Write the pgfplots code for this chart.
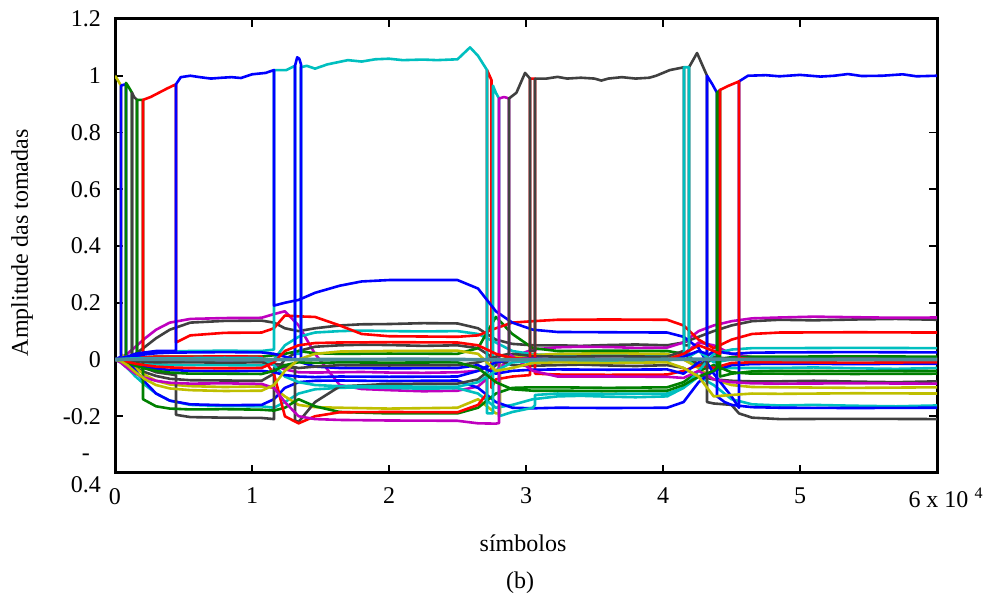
\documentclass[border=0pt]{standalone}
\usepackage{fontspec}
\setmainfont{Liberation Serif}
\usepackage{pgfplots}
\usepackage{pgfplotstable}
\pgfplotsset{compat=1.18}

% line colours of the tap trajectories
\definecolor{tb}{rgb}{0,0,1}
\definecolor{tg}{rgb}{0,0.5,0}
\definecolor{tr}{rgb}{1,0,0}
\definecolor{tc}{rgb}{0,0.75,0.75}
\definecolor{tm}{rgb}{0.75,0,0.75}
\definecolor{ty}{rgb}{0.75,0.75,0}
\definecolor{tk}{rgb}{0.25,0.25,0.25}
\definecolor{tz}{rgb}{0.30,0.55,0.60}

% small taps that never become the main tap
\pgfplotstableread{
x      D1     M1     D2      C2      C3      M3
0      0      0      0       0       0       0
400    0      0.005  -0.005  -0.002  -0.01   0.002
900    0.005  0.02   -0.015  -0.006  -0.03   0
1500   0.02   0.045  -0.03   -0.01   -0.06   -0.003
2200   0.045  0.075  -0.045  -0.014  -0.09   -0.005
3000   0.075  0.105  -0.058  -0.017  -0.12   -0.005
4000   0.105  0.13   -0.068  -0.019  -0.145  -0.006
5500   0.13   0.143  -0.073  -0.02   -0.16   -0.005
8000   0.136  0.146  -0.074  -0.02   -0.164  -0.005
10700  0.137  0.147  -0.075  -0.021  -0.165  -0.006
11600  0.13   0.16   -0.05   0       -0.17   -0.02
12400  0.11   0.17   0       0.05    -0.15   -0.035
13400  0.1    0.12   0.03    0.08    -0.12   -0.045
14600  0.11   0.02   0.045   0.095   -0.105  -0.046
16400  0.12   -0.09  0.05    0.1     -0.1    -0.045
18000  0.124  -0.104 0.052   0.102   -0.098  -0.044
20000  0.125  -0.108 0.051   0.1     -0.1    -0.046
22500  0.128  -0.112 0.048   0.099   -0.103  -0.047
25000  0.127  -0.11  0.05    0.1     -0.101  -0.045
26500  0.11   -0.095 0.04    0.09    -0.12   -0.04
27800  0.07   -0.04  0       0.06    -0.17   -0.01
29000  0.055  0.01   -0.02   0.03    -0.16   0.01
30500  0.05   0.035  -0.022  0.018   -0.14   0.004
32300  0.05   0.043  -0.02   0.015   -0.13   0
34000  0.048  0.045  -0.018  0.018   -0.128  0.003
36000  0.051  0.044  -0.021  0.016   -0.131  0.001
38000  0.053  0.041  -0.023  0.013   -0.133  -0.002
40300  0.05   0.042  -0.02   0.015   -0.13   0
41500  0.06   0.06   -0.03   0       -0.1    0.02
42600  0.08   0.1    -0.06   -0.02   -0.06   0.06
43700  0.1    0.12   -0.07   -0.03   -0.09   0.05
45000  0.12   0.135  -0.075  -0.03   -0.14   0.02
46500  0.135  0.145  -0.077  -0.03   -0.158  0.008
48500  0.14   0.148  -0.077  -0.03   -0.162  0.005
51000  0.138  0.151  -0.075  -0.028  -0.16   0.007
54000  0.141  0.149  -0.078  -0.031  -0.163  0.006
57000  0.143  0.147  -0.08   -0.033  -0.165  0.003
60000  0.14   0.148  -0.077  -0.03   -0.162  0.005
}\smalltaps

\begin{document}
\begin{tikzpicture}[font=\rmfamily\fontsize{12}{14}\selectfont]
\path[use as bounding box] (-57.5pt,-62.5pt) rectangle (439.5pt,236.5pt);
\begin{axis}[
  at={(0,0)}, anchor=south west,
  scale only axis, width=411pt, height=227pt,
  xmin=0, xmax=60000, ymin=-0.4, ymax=1.2,
  xtick={0,10000,20000,30000,40000,50000,60000},
  xticklabels={0,1,2,3,4,5,{\hspace*{9pt}6 x 10 \textsuperscript{4}}},
  scaled x ticks=false,
  ytick={-0.4,-0.2,0,0.2,0.4,0.6,0.8,1,1.2},
  yticklabels={{-\\[2pt]0.4},-0.2,0,0.2,0.4,0.6,0.8,1,1.2},
  /pgf/number format/assume math mode=true,
  tick label style={font=\rmfamily\fontsize{12}{14}\selectfont},
  yticklabel style={align=center, xshift=-3.5pt},
  xticklabel style={yshift=-4pt},
  tick align=inside,
  major tick length=4pt,
  tick style={line width=0.9pt, black},
  axis line style={line width=1.5pt},
  every axis plot/.append style={line width=1.3pt, line join=round, mark=none},
]
% taps that stay small
\addplot[tk] table[x=x, y=D1] {\smalltaps};
\addplot[tm] table[x=x, y=M1] {\smalltaps};
\addplot[tk] table[x=x, y=D2] {\smalltaps};
\addplot[tc] table[x=x, y=C2] {\smalltaps};
\addplot[tc] table[x=x, y=C3] {\smalltaps};
\addplot[tm] table[x=x, y=M3] {\smalltaps};

% taps that take the main position for a while
\addplot[ty] coordinates {(0,1.0)(200,0.985)(438,0.965)(438,0.02)(900,-0.005)(1500,-0.03)(2200,-0.055)(3000,-0.075)(4000,-0.088)(5500,-0.094)(8000,-0.097)(10700,-0.095)(11600,-0.10)(12400,-0.13)(13400,-0.16)(14600,-0.168)(16400,-0.17)(20000,-0.173)(25000,-0.17)(26500,-0.14)(27800,-0.19)(28100,-0.19)(28100,0.0)(29000,0.01)(30500,0.015)(32300,0.02)(36000,0.022)(40300,0.02)(41500,0.0)(42600,-0.03)(43700,-0.07)(45000,-0.09)(46500,-0.097)(48500,-0.098)(54000,-0.1)(60000,-0.098)};
\addplot[tb] coordinates {(0,0)(438,0.01)(438,0.965)(620,0.968)(803,0.97)(803,0.0)(900,-0.005)(1500,-0.04)(2200,-0.08)(3000,-0.12)(4000,-0.145)(5500,-0.158)(8000,-0.161)(10700,-0.16)(11600,-0.14)(12400,-0.1)(13400,-0.08)(14600,-0.075)(16400,-0.074)(20000,-0.076)(25000,-0.074)(26500,-0.1)(27800,-0.15)(29000,-0.17)(30500,-0.172)(32300,-0.17)(36000,-0.171)(40300,-0.17)(41500,-0.15)(42600,-0.08)(43700,-0.04)(45000,-0.02)(46500,-0.016)(48500,-0.015)(54000,-0.016)(60000,-0.015)};
\addplot[tg] coordinates {(0,0)(400,0.003)(803,0.005)(803,0.975)(1000,0.96)(1241,0.94)(1241,0.0)(1500,0.005)(2200,0.008)(3000,0.01)(4000,0.01)(5500,0.01)(8000,0.011)(10700,0.01)(11600,0.015)(12400,0.02)(13400,0.03)(14600,0.022)(16400,0.02)(20000,0.021)(25000,0.02)(26500,0.04)(27800,0.15)(29000,0.09)(30500,0.04)(32300,0.03)(36000,0.031)(40300,0.03)(41500,0.02)(42600,-0.02)(43700,0.0)(45000,0.008)(46500,0.01)(48500,0.01)(54000,0.011)(60000,0.01)};
\addplot[tk] coordinates {(0,0)(400,-0.003)(900,-0.005)(1241,-0.006)(1241,0.94)(1400,0.925)(1606,0.915)(1606,-0.01)(2200,-0.03)(3000,-0.045)(4453,-0.055)(4453,-0.195)(5500,-0.203)(8000,-0.205)(10700,-0.206)(11606,-0.21)(11606,-0.03)(12400,-0.025)(13139,-0.03)(13139,-0.215)(13400,-0.22)(14600,-0.15)(16400,-0.095)(20000,-0.086)(25000,-0.085)(26500,-0.07)(27800,-0.02)(29000,0.02)(30500,0.012)(32300,0.01)(36000,0.011)(40300,0.01)(41500,0.03)(42600,-0.02)(43700,0.01)(45000,0.0)(46500,0.002)(48500,0.0)(54000,0.001)(60000,0.0)};
\addplot[tg] coordinates {(0,0)(400,-0.005)(900,-0.01)(1606,-0.02)(1606,0.915)(2044,0.915)(2044,-0.14)(3000,-0.165)(4000,-0.173)(5500,-0.176)(8000,-0.175)(10700,-0.177)(11600,-0.18)(12400,-0.17)(13400,-0.14)(14600,-0.165)(16400,-0.185)(20000,-0.19)(25000,-0.19)(26500,-0.17)(27800,-0.12)(29000,-0.1)(30500,-0.098)(32300,-0.098)(36000,-0.1)(40300,-0.098)(41500,-0.08)(42600,-0.04)(43700,-0.02)(45000,-0.045)(46500,-0.05)(48500,-0.05)(54000,-0.051)(60000,-0.05)};
\addplot[tr] coordinates {(0,0)(400,0.005)(900,0.01)(1500,0.012)(2044,0.01)(2044,0.915)(2600,0.925)(3200,0.94)(3800,0.955)(4453,0.97)(4453,0.06)(5500,0.085)(8000,0.094)(10700,0.095)(11600,0.11)(12400,0.155)(13400,0.152)(14600,0.15)(16400,0.12)(18000,0.09)(20000,0.082)(25000,0.08)(26500,0.085)(27800,0.11)(29000,0.13)(30500,0.135)(32300,0.14)(36000,0.141)(40300,0.14)(41500,0.12)(42600,0.07)(43700,0.04)(45000,0.07)(46500,0.09)(48500,0.095)(54000,0.096)(60000,0.095)};
% red tap holding briefly around 2.7e4 and 3.05e4 (drawn before the cyan one)
\addplot[tr] coordinates {(0,0)(400,0.002)(900,0.004)(1500,0.006)(2200,0.008)(3000,0.01)(4000,0.01)(5500,0.01)(8000,0.011)(10700,0.01)(11600,-0.05)(12400,-0.2)(13400,-0.225)(14600,-0.2)(16400,-0.186)(20000,-0.185)(25000,-0.186)(26500,-0.16)(27153,-0.12)(27153,1.02)(27480,0.985)(27480,-0.1)(27800,-0.07)(29000,-0.06)(30294,-0.055)(30294,0.99)(30659,0.99)(30659,-0.05)(32300,-0.053)(36000,-0.054)(40300,-0.053)(41500,-0.04)(42600,-0.02)(43700,-0.03)(45000,-0.012)(46500,-0.01)(48500,-0.01)(54000,-0.011)(60000,-0.01)};
\addplot[tc] coordinates {(0,0)(400,0.004)(900,0.01)(1500,0.016)(2200,0.022)(3000,0.026)(4000,0.028)(5500,0.03)(8000,0.031)(10700,0.03)(11606,0.035)(11606,1.02)(12500,1.02)(13139,1.035)(13139,0.02)(13577,0.02)(13577,1.03)(14000,1.035)(14600,1.025)(15500,1.04)(17000,1.055)(18000,1.05)(19000,1.058)(20000,1.06)(21000,1.055)(22500,1.057)(23500,1.055)(25000,1.058)(25915,1.10)(26500,1.07)(27153,1.02)(27153,-0.19)(27591,-0.19)(27591,0.965)(27800,0.94)(28032,0.92)(28032,-0.2)(29000,-0.185)(30500,-0.17)(30659,-0.16)(30659,-0.125)(32300,-0.12)(36000,-0.121)(40300,-0.12)(41500,-0.1)(42600,-0.04)(43700,0.02)(45000,0.035)(46500,0.04)(48500,0.04)(54000,0.041)(60000,0.04)};
\addplot[tb] coordinates {(0,0)(400,0.005)(900,0.01)(1500,0.02)(2200,0.025)(3000,0.03)(4000,0.03)(4453,0.03)(4453,0.97)(4800,0.995)(5500,1.0)(6200,0.995)(7000,0.99)(7800,0.993)(8500,0.995)(9200,0.992)(10000,1.005)(11000,1.01)(11606,1.02)(11606,0.19)(12400,0.2)(13400,0.21)(14600,0.235)(16400,0.26)(18000,0.275)(20000,0.28)(25000,0.28)(26500,0.25)(27800,0.17)(29000,0.13)(30500,0.105)(32300,0.097)(36000,0.096)(40300,0.095)(41500,0.08)(42600,0.04)(43700,-0.05)(45000,-0.13)(45547,-0.17)(45547,0.98)(46200,1.0)(47500,1.002)(48500,0.998)(50000,1.003)(51500,0.997)(52500,1.0)(53500,1.006)(54500,0.999)(56000,1.0)(57500,1.005)(58500,0.998)(60000,1.0)};
\addplot[tb] coordinates {(0,0)(400,0.002)(900,0.008)(1500,0.012)(2200,0.018)(3000,0.022)(4000,0.024)(5500,0.025)(8000,0.026)(10700,0.025)(11600,0.02)(12400,0.01)(13139,0.0)(13139,1.035)(13300,1.065)(13450,1.06)(13577,1.04)(13577,-0.01)(14600,-0.025)(16400,-0.03)(20000,-0.031)(25000,-0.03)(26500,-0.02)(27800,-0.05)(29000,-0.04)(30500,-0.036)(32300,-0.035)(36000,-0.036)(40300,-0.035)(41500,-0.05)(42600,-0.01)(43700,0.03)(45000,0.02)(46500,0.024)(48500,0.025)(54000,0.026)(60000,0.025)};
\addplot[tm] coordinates {(0,0)(400,-0.01)(900,-0.03)(1500,-0.05)(2200,-0.065)(3000,-0.075)(4000,-0.082)(5500,-0.085)(8000,-0.084)(10700,-0.086)(11600,-0.1)(12400,-0.15)(13400,-0.2)(14600,-0.21)(16400,-0.213)(20000,-0.215)(25000,-0.216)(26500,-0.225)(27800,-0.226)(28032,-0.224)(28032,0.92)(28400,0.925)(28762,0.92)(28762,0.02)(30500,-0.04)(32300,-0.06)(36000,-0.06)(40300,-0.061)(41500,-0.065)(42600,-0.04)(43700,-0.07)(45000,-0.08)(46500,-0.084)(48500,-0.085)(54000,-0.084)(60000,-0.085)};
\addplot[tk] coordinates {(0,0)(400,0)(900,-0.003)(1500,-0.005)(2200,-0.008)(3000,-0.01)(4000,-0.01)(5500,-0.01)(8000,-0.011)(10700,-0.01)(11600,-0.015)(12400,-0.02)(13400,-0.03)(14600,-0.025)(16400,-0.02)(20000,-0.021)(25000,-0.02)(26500,-0.01)(27800,0.01)(28762,0.02)(28762,0.92)(29300,0.94)(29930,1.01)(30294,0.99)(30294,0.03)(30659,0.03)(30659,0.99)(31500,0.99)(32300,0.996)(33000,0.99)(34000,0.993)(35000,0.99)(35500,0.983)(36000,0.99)(37000,0.995)(38000,0.99)(39000,0.993)(39500,1.0)(40500,1.02)(41533,1.03)(41533,0.05)(41898,0.05)(41898,1.03)(42486,1.08)(43212,1.0)(43212,-0.15)(43700,-0.155)(45000,-0.16)(45547,-0.19)(46500,-0.205)(48500,-0.21)(54000,-0.209)(60000,-0.21)};
\addplot[tc] coordinates {(0,0)(400,0.001)(900,0.003)(1500,0.004)(2200,0.005)(3000,0.005)(4000,0.005)(5500,0.005)(8000,0.006)(10700,0.005)(11600,-0.02)(12400,-0.06)(13400,-0.08)(14600,-0.09)(16400,-0.094)(20000,-0.095)(25000,-0.096)(26500,-0.08)(27800,-0.04)(29000,-0.01)(30500,-0.006)(32300,-0.005)(36000,-0.006)(40300,-0.005)(41533,0.01)(41533,1.03)(41898,1.03)(41898,0.01)(42600,0.03)(43700,-0.01)(45000,0.0)(46500,0.0)(48500,0.0)(54000,0.001)(60000,0.0)};
\addplot[tb] coordinates {(0,0)(400,-0.003)(900,-0.01)(1500,-0.018)(2200,-0.026)(3000,-0.032)(4000,-0.037)(5500,-0.04)(8000,-0.041)(10700,-0.04)(11600,-0.045)(12400,-0.055)(13400,-0.06)(14600,-0.062)(16400,-0.06)(20000,-0.061)(25000,-0.06)(26500,-0.04)(27800,-0.01)(29000,0.0)(30500,0.002)(32300,0.0)(36000,0.001)(40300,0.0)(41500,0.01)(42600,0.03)(43212,0.02)(43212,1.0)(43600,0.97)(43942,0.94)(43942,-0.13)(44500,-0.15)(45000,-0.16)(46500,-0.168)(48500,-0.17)(54000,-0.171)(60000,-0.17)};
\addplot[tg] coordinates {(0,0)(400,-0.004)(900,-0.012)(1500,-0.022)(2200,-0.032)(3000,-0.04)(4000,-0.046)(5500,-0.05)(8000,-0.05)(10700,-0.051)(11600,-0.04)(12400,-0.02)(13400,-0.01)(14600,-0.012)(16400,-0.01)(20000,-0.011)(25000,-0.01)(26500,-0.03)(27800,-0.08)(29000,-0.105)(30500,-0.11)(32300,-0.11)(36000,-0.111)(40300,-0.11)(41500,-0.09)(42600,-0.06)(43700,-0.04)(43942,-0.03)(43942,0.94)(44161,0.95)(44161,-0.06)(45000,-0.05)(46500,-0.042)(48500,-0.04)(54000,-0.041)(60000,-0.04)};
\addplot[tr] coordinates {(0,0)(400,-0.002)(900,-0.008)(1500,-0.015)(2200,-0.02)(3000,-0.025)(4000,-0.028)(5500,-0.03)(8000,-0.031)(10700,-0.03)(11600,-0.01)(12400,0.03)(13400,0.05)(14600,0.058)(16400,0.06)(20000,0.061)(25000,0.06)(26500,0.05)(27800,0.02)(29000,0.005)(30500,0.0)(32300,0.0)(36000,0.001)(40300,0.0)(41500,0.02)(42600,0.05)(43700,0.03)(44161,0.02)(44161,0.95)(44800,0.965)(45547,0.98)(45547,0.005)(46500,0.0)(48500,0.0)(54000,0.001)(60000,0.0)};
\addplot[ty] coordinates {(0,0)(400,-0.005)(900,-0.02)(1500,-0.045)(2200,-0.07)(3000,-0.09)(4000,-0.102)(5500,-0.108)(8000,-0.111)(10700,-0.11)(11600,-0.09)(12400,-0.04)(13400,0.0)(14600,0.02)(16400,0.028)(20000,0.03)(25000,0.031)(26500,0.02)(27800,-0.04)(29000,-0.03)(30500,-0.012)(32300,-0.01)(36000,-0.012)(40300,-0.01)(41500,-0.03)(42600,-0.06)(43700,-0.13)(45000,-0.125)(46500,-0.12)(48500,-0.121)(54000,-0.119)(60000,-0.12)};
% tap that stays at zero, drawn over the rest
\addplot[tz, line width=1.8pt] coordinates {(0,0)(3000,0.001)(8000,-0.001)(15000,0.0)(22000,0.001)(28000,-0.001)(35000,0.0)(42000,0.001)(50000,0.0)(60000,0.0)};
\end{axis}
\node at (204pt,-35pt) {símbolos};
\node at (202.5pt,-55pt) {(b)};
\node[rotate=90] at (-46.5pt,115pt) {Amplitude das tomadas};
\end{tikzpicture}
\end{document}
